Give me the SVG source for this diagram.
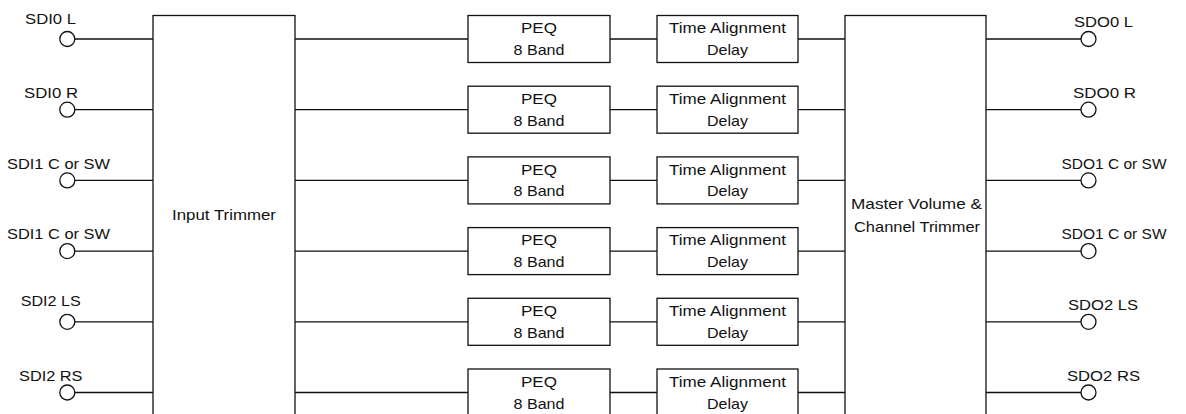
<svg xmlns="http://www.w3.org/2000/svg" width="1186" height="414" viewBox="0 0 1186 414">
<style>
  .ln { stroke:#111; stroke-width:1.3; fill:none; }
  .box { stroke:#111; stroke-width:1.3; fill:#fff; }
  .port { stroke:#111; stroke-width:1.3; fill:#fff; }
  text { font-family:"Liberation Sans", Arial, sans-serif; font-size:15px; fill:#111; }
  .c { text-anchor:middle; }
</style>
<rect width="1186" height="414" fill="#fff"/>
<g id="connectors">
  <path class="ln" d="M75 39H153M75 109.7H153M75 180.4H153M75 251.1H153M75 321.8H153M75 392.5H153"/>
  <path class="ln" d="M295 39H468M295 109.7H468M295 180.4H468M295 251.1H468M295 321.8H468M295 392.5H468"/>
  <path class="ln" d="M610 39H657M610 109.7H657M610 180.4H657M610 251.1H657M610 321.8H657M610 392.5H657"/>
  <path class="ln" d="M798 39H845M798 109.7H845M798 180.4H845M798 251.1H845M798 321.8H845M798 392.5H845"/>
  <path class="ln" d="M986 39H1081M986 109.7H1081M986 180.4H1081M986 251.1H1081M986 321.8H1081M986 392.5H1081"/>
</g>
<g id="in0"><circle class="port" cx="67.3" cy="39" r="7.5"/><text x="25" y="24" textLength="51" lengthAdjust="spacingAndGlyphs">SDI0 L</text></g>
<g id="in1"><circle class="port" cx="67.3" cy="109.7" r="7.5"/><text x="24" y="98" textLength="54" lengthAdjust="spacingAndGlyphs">SDI0 R</text></g>
<g id="in2"><circle class="port" cx="67.3" cy="180.4" r="7.5"/><text x="7" y="168.5" textLength="103" lengthAdjust="spacingAndGlyphs">SDI1 C or SW</text></g>
<g id="in3"><circle class="port" cx="67.3" cy="251.1" r="7.5"/><text x="7" y="239" textLength="103" lengthAdjust="spacingAndGlyphs">SDI1 C or SW</text></g>
<g id="in4"><circle class="port" cx="67.3" cy="321.8" r="7.5"/><text x="20.7" y="306" textLength="60" lengthAdjust="spacingAndGlyphs">SDI2 LS</text></g>
<g id="in5"><circle class="port" cx="67.3" cy="392.5" r="7.5"/><text x="19" y="381" textLength="63.5" lengthAdjust="spacingAndGlyphs">SDI2 RS</text></g>
<g id="input-trimmer"><rect class="box" x="153" y="15.5" width="142" height="410"/><text x="224" y="220" textLength="104" lengthAdjust="spacingAndGlyphs" class="c">Input Trimmer</text></g>
<g id="peq0"><rect class="box" x="468" y="15.5" width="142" height="47"/><text class="c" x="539" y="33.3" textLength="36" lengthAdjust="spacingAndGlyphs">PEQ</text><text class="c" x="539" y="55" textLength="51" lengthAdjust="spacingAndGlyphs">8 Band</text></g>
<g id="peq1"><rect class="box" x="468" y="86.2" width="142" height="47"/><text class="c" x="539" y="104" textLength="36" lengthAdjust="spacingAndGlyphs">PEQ</text><text class="c" x="539" y="125.7" textLength="51" lengthAdjust="spacingAndGlyphs">8 Band</text></g>
<g id="peq2"><rect class="box" x="468" y="156.9" width="142" height="47"/><text class="c" x="539" y="174.7" textLength="36" lengthAdjust="spacingAndGlyphs">PEQ</text><text class="c" x="539" y="196.4" textLength="51" lengthAdjust="spacingAndGlyphs">8 Band</text></g>
<g id="peq3"><rect class="box" x="468" y="227.6" width="142" height="47"/><text class="c" x="539" y="245.4" textLength="36" lengthAdjust="spacingAndGlyphs">PEQ</text><text class="c" x="539" y="267.1" textLength="51" lengthAdjust="spacingAndGlyphs">8 Band</text></g>
<g id="peq4"><rect class="box" x="468" y="298.3" width="142" height="47"/><text class="c" x="539" y="316.1" textLength="36" lengthAdjust="spacingAndGlyphs">PEQ</text><text class="c" x="539" y="337.8" textLength="51" lengthAdjust="spacingAndGlyphs">8 Band</text></g>
<g id="peq5"><rect class="box" x="468" y="369" width="142" height="47"/><text class="c" x="539" y="386.8" textLength="36" lengthAdjust="spacingAndGlyphs">PEQ</text><text class="c" x="539" y="408.5" textLength="51" lengthAdjust="spacingAndGlyphs">8 Band</text></g>
<g id="ta0"><rect class="box" x="657" y="15.5" width="141" height="47"/><text class="c" x="727.5" y="33.3" textLength="117" lengthAdjust="spacingAndGlyphs">Time Alignment</text><text class="c" x="727.5" y="55" textLength="41" lengthAdjust="spacingAndGlyphs">Delay</text></g>
<g id="ta1"><rect class="box" x="657" y="86.2" width="141" height="47"/><text class="c" x="727.5" y="104" textLength="117" lengthAdjust="spacingAndGlyphs">Time Alignment</text><text class="c" x="727.5" y="125.7" textLength="41" lengthAdjust="spacingAndGlyphs">Delay</text></g>
<g id="ta2"><rect class="box" x="657" y="156.9" width="141" height="47"/><text class="c" x="727.5" y="174.7" textLength="117" lengthAdjust="spacingAndGlyphs">Time Alignment</text><text class="c" x="727.5" y="196.4" textLength="41" lengthAdjust="spacingAndGlyphs">Delay</text></g>
<g id="ta3"><rect class="box" x="657" y="227.6" width="141" height="47"/><text class="c" x="727.5" y="245.4" textLength="117" lengthAdjust="spacingAndGlyphs">Time Alignment</text><text class="c" x="727.5" y="267.1" textLength="41" lengthAdjust="spacingAndGlyphs">Delay</text></g>
<g id="ta4"><rect class="box" x="657" y="298.3" width="141" height="47"/><text class="c" x="727.5" y="316.1" textLength="117" lengthAdjust="spacingAndGlyphs">Time Alignment</text><text class="c" x="727.5" y="337.8" textLength="41" lengthAdjust="spacingAndGlyphs">Delay</text></g>
<g id="ta5"><rect class="box" x="657" y="369" width="141" height="47"/><text class="c" x="727.5" y="386.8" textLength="117" lengthAdjust="spacingAndGlyphs">Time Alignment</text><text class="c" x="727.5" y="408.5" textLength="41" lengthAdjust="spacingAndGlyphs">Delay</text></g>
<g id="master"><rect class="box" x="845" y="15.5" width="141" height="410"/><text class="c" x="916.5" y="209.3" textLength="131" lengthAdjust="spacingAndGlyphs">Master Volume &amp;</text><text class="c" x="917" y="231.5" textLength="126" lengthAdjust="spacingAndGlyphs">Channel Trimmer</text></g>
<g id="out0"><circle class="port" cx="1088.5" cy="39" r="7.5"/><text x="1074" y="27" textLength="59" lengthAdjust="spacingAndGlyphs">SDO0 L</text></g>
<g id="out1"><circle class="port" cx="1088.5" cy="109.7" r="7.5"/><text x="1073" y="98" textLength="63" lengthAdjust="spacingAndGlyphs">SDO0 R</text></g>
<g id="out2"><circle class="port" cx="1088.5" cy="180.4" r="7.5"/><text x="1061.5" y="168.5" textLength="105" lengthAdjust="spacingAndGlyphs">SDO1 C or SW</text></g>
<g id="out3"><circle class="port" cx="1088.5" cy="251.1" r="7.5"/><text x="1061.5" y="239" textLength="105" lengthAdjust="spacingAndGlyphs">SDO1 C or SW</text></g>
<g id="out4"><circle class="port" cx="1088.5" cy="321.8" r="7.5"/><text x="1068" y="310" textLength="70" lengthAdjust="spacingAndGlyphs">SDO2 LS</text></g>
<g id="out5"><circle class="port" cx="1088.5" cy="392.5" r="7.5"/><text x="1067" y="381" textLength="73" lengthAdjust="spacingAndGlyphs">SDO2 RS</text></g>
</svg>
